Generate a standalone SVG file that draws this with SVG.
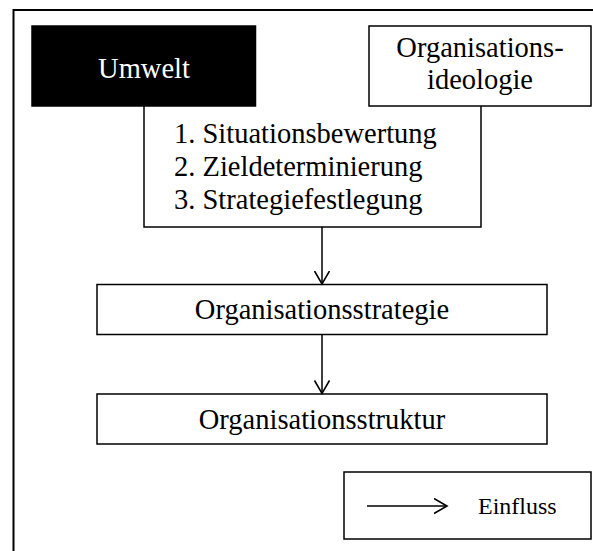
<svg xmlns="http://www.w3.org/2000/svg" width="593" height="551" viewBox="0 0 593 551">
  <style>
    .box { fill: #fff; stroke: #000; stroke-width: 1.5; }
    .dark { fill: #000; stroke: #000; stroke-width: 1.5; }
    .lbl { font-family: "Liberation Serif", "Times New Roman", serif; font-size: 28.5px; fill: #000; }
    .mid { text-anchor: middle; }
    .conn { fill: none; stroke: #000; stroke-width: 1.5; }
  </style>
  <defs>
    <marker id="arrow" markerUnits="userSpaceOnUse" markerWidth="16" markerHeight="18" refX="13.5" refY="8" orient="auto">
      <path d="M0.5,0.5 L13.5,8 L0.5,15.5" fill="none" stroke="#000" stroke-width="1.6"/>
    </marker>
  </defs>

  <rect x="0" y="0" width="593" height="551" fill="#fff"/>

  <!-- outer frame, right and bottom edges run off the page -->
  <rect id="frame" x="13.5" y="10" width="600" height="560" fill="none" stroke="#000" stroke-width="2"/>

  <!-- process steps: open at the top, tucked under the two boxes above -->
  <g id="prozess">
    <path class="conn" d="M144,106 V227 H481 V106"/>
    <text class="lbl" x="174" y="143">1. Situationsbewertung</text>
    <text class="lbl" x="174" y="176">2. Zieldeterminierung</text>
    <text class="lbl" x="174" y="209">3. Strategiefestlegung</text>
  </g>

  <g id="umwelt">
    <rect class="dark" x="32" y="26" width="223.5" height="80"/>
    <text class="lbl mid" x="144" y="78" style="fill:#fff">Umwelt</text>
  </g>

  <g id="ideologie">
    <rect class="box" x="369" y="26" width="222" height="80"/>
    <text class="lbl mid" x="480" y="57">Organisations-</text>
    <text class="lbl mid" x="480" y="89">ideologie</text>
  </g>

  <g id="strategie">
    <rect class="box" x="97" y="284.5" width="450" height="50"/>
    <text class="lbl mid" x="322" y="319">Organisationsstrategie</text>
  </g>

  <g id="struktur">
    <rect class="box" x="97" y="394" width="450" height="50"/>
    <text class="lbl mid" x="322" y="429">Organisationsstruktur</text>
  </g>

  <g id="connectors">
    <line class="conn" x1="322" y1="227" x2="322" y2="284" marker-end="url(#arrow)"/>
    <line class="conn" x1="322" y1="334.5" x2="322" y2="393.5" marker-end="url(#arrow)"/>
  </g>

  <g id="legende">
    <rect class="box" x="344" y="472" width="247" height="67"/>
    <line class="conn" x1="367" y1="506" x2="447" y2="506" marker-end="url(#arrow)"/>
    <text class="lbl" x="478" y="514" style="font-size:24px">Einfluss</text>
  </g>
</svg>
